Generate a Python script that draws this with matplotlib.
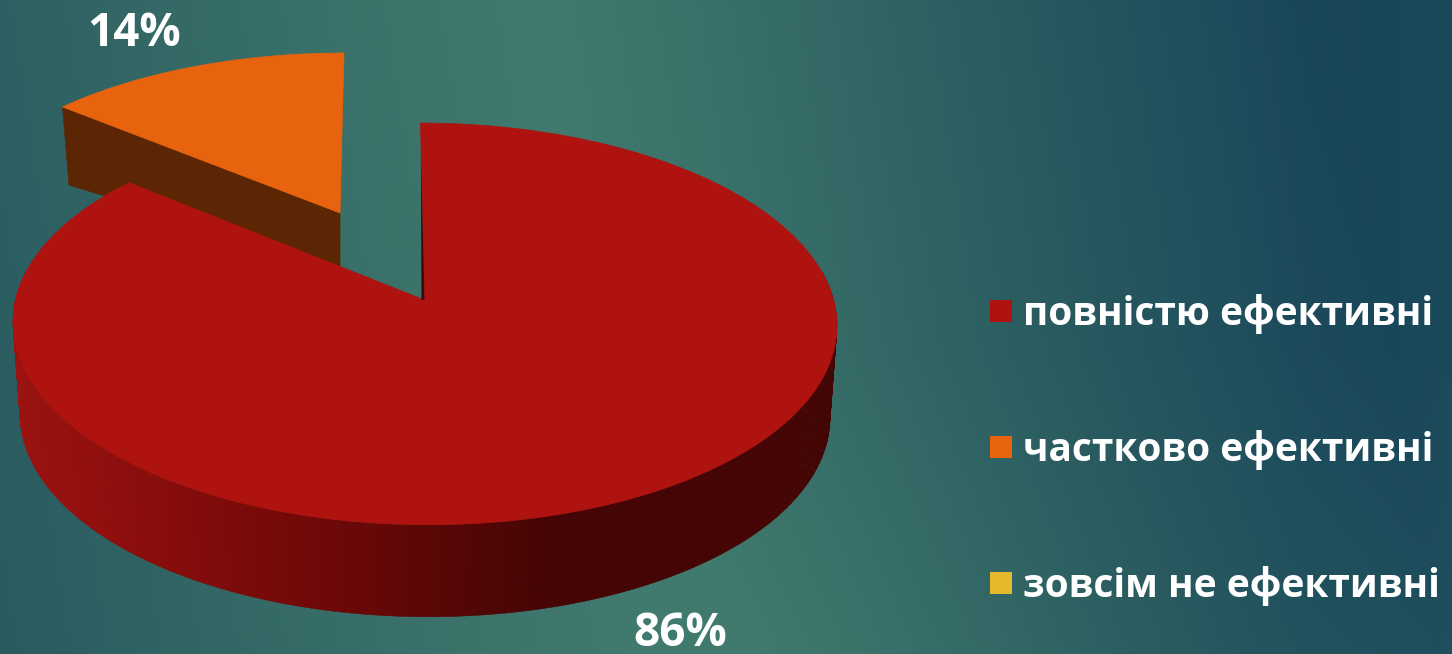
import numpy as np
import matplotlib
matplotlib.use("Agg")
import matplotlib.pyplot as plt
from matplotlib.colors import to_rgb, LinearSegmentedColormap
from matplotlib.patches import Polygon, Rectangle

categories = ["повністю ефективні", "частково ефективні", "зовсім не ефективні"]
values = [86, 14, 0]
value_labels = ["86%", "14%", ""]
colors = ["#AE130F", "#E8630E", "#E4B92B"]
side_color_orange = "#5C2605"

FONT = "Open Sans"
W, H = 1452, 654
fig = plt.figure(figsize=(W / 100, H / 100), dpi=100)
ax = fig.add_axes([0, 0, 1, 1])
ax.set_xlim(0, W)
ax.set_ylim(H, 0)
ax.axis("off")

# background
yy, xx = np.mgrid[0:H:2, 0:W:2]
peak = 540 + 0.15 * yy
t = np.where(xx < peak, (peak - xx) / 1100, (xx - peak) / 800)
t = np.clip(t, 0, 1) ** 1.2
# slight lightening towards the lower right and top right corners
t = t - 0.12 * np.clip((xx - 1300) / 152, 0, 1) - 0.10 * np.clip((yy - 350) / 300, 0, 1) * (xx > peak)
t = np.clip(t, 0, 1)
bg = LinearSegmentedColormap.from_list("bg", ["#40796E", "#2A5C60", "#17445A"])
ax.imshow(bg(t), extent=(0, W, H, 0), aspect="auto", zorder=0, interpolation="bilinear")


def project(theta, ax_, ay_, R, b, k=0.119, shear=-4.0):
    """Perspective map of a unit-circle point; theta clockwise from 12 o'clock."""
    u, v = np.sin(theta), np.cos(theta)
    d = 1 + k * v
    return ax_ + R * u / d + shear * v, ay_ - b * v / d


fractions = np.array(values, float) / sum(values)
end_main = 2 * np.pi * fractions[0]

# --- main slice: side wall strips
TOP = dict(ax_=424.5, ay_=300, R=409, b=198)
BOT = dict(ax_=424.5, ay_=392, R=402, b=198)
th = np.linspace(np.pi / 2 - 0.15, 3 * np.pi / 2 + 0.15, 500)
th = th[th <= end_main]
stops_x = [20, 300, 550, 840]
c = [to_rgb(s) for s in ["#9C1210", "#720908", "#450505", "#450505"]]
for i in range(len(th) - 1):
    x0, y0 = project(th[i], **TOP)
    x1, y1 = project(th[i + 1] + 0.002, **TOP)
    x2, y2 = project(th[i + 1] + 0.002, **BOT)
    x3, y3 = project(th[i], **BOT)
    xm = (x0 + x1) / 2
    col = [np.interp(xm, stops_x, [q[j] for q in c]) for j in range(3)]
    ax.add_patch(Polygon([(x0, y0), (x1, y1), (x2, y2), (x3, y3)], fc=col, ec=col, lw=0.3, zorder=3))

# --- exploded slice
A_T = dict(ax_=340, ay_=213, R=391, b=179, shear=4.0)
A_B = dict(ax_=340, ay_=268, R=382, b=140, shear=4.0)
th2 = np.linspace(end_main, 2 * np.pi, 80)
lx, ly = project(end_main, **A_T)
lx2, ly2 = project(end_main, **A_B)
ax.add_patch(Polygon([(340, 213), (lx, ly), (lx2, ly2), (340, 268)], fc=side_color_orange,
                     ec=side_color_orange, lw=0.5, zorder=2))
ox, oy = project(th2, **A_T)
ax.add_patch(Polygon(np.r_[[(340, 213)], np.c_[ox, oy]], fc=colors[1], ec=colors[1], lw=0.5, zorder=2))

# --- main slice: top face
th1 = np.linspace(0, end_main, 400)
mx, my = project(th1, **TOP)
ax.add_patch(Polygon(np.r_[[(424.5, 300)], np.c_[mx, my]], fc=colors[0], ec=colors[0], lw=0.5, zorder=4))
tx, ty = project(0.0, **TOP)
ax.add_patch(Polygon([(tx + 0.3, ty + 25), (421.5, 300), (424.5, 300)], fc="#3E0707", ec="none", zorder=5))

# --- value labels
label_pos = [(680, 633), (134, 33)]
for lab, (x, y) in zip(value_labels, label_pos):
    ax.text(x, y, lab, color="white", fontsize=33, fontweight="bold", family=FONT,
            ha="center", va="center", zorder=6)

# --- legend
for i, (name, col) in enumerate(zip(categories, colors)):
    base = 325 + i * 136
    ax.add_patch(Rectangle((990, base - 25), 22, 22, fc=col, ec="none", zorder=6))
    ax.text(1023, base, name, color="white", fontsize=28, fontweight="bold", family=FONT,
            ha="left", va="baseline", zorder=6)

fig.savefig("out.png", dpi=100)
